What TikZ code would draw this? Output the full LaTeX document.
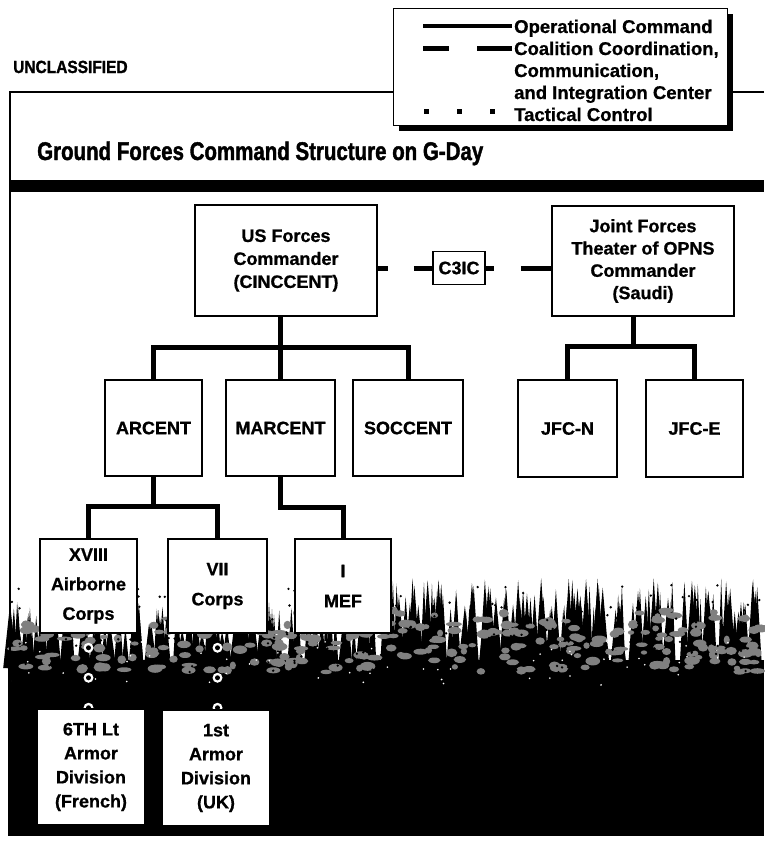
\documentclass[tikz,border=0pt]{standalone}
\usepackage{fontspec}
\setmainfont{Liberation Sans}[BoldFeatures={FakeBold=0.8}]
\newfontfamily\condfont[FakeStretch=0.8,FakeBold=1.5]{Liberation Sans}
\newfontfamily\semicond[FakeStretch=0.88,FakeBold=1.4]{Liberation Sans}
\usetikzlibrary{calc}
\pgfdeclarelayer{back}
\pgfdeclarelayer{mid}
\pgfsetlayers{back,mid,main}
\tikzset{
  orgbox/.style={draw=black, line width=1.5pt, fill=white, inner sep=0pt, align=center,
    font=\bfseries\fontsize{18}{23}\selectfont},
  cmdline/.style={line width=5pt, line join=miter},
  ccline/.style={line width=5pt},
  ringout/.style={white, line width=10pt, line cap=round, dash pattern=on 0pt off 30pt, dash phase=16pt},
  ringin/.style={black, line width=5pt, line cap=round, dash pattern=on 0pt off 30pt, dash phase=16pt},
  legtext/.style={anchor=base west, inner sep=0pt, font=\bfseries\fontsize{18.5}{22}\selectfont},
}
\begin{document}
\begin{tikzpicture}[x=1pt,y=-1pt]
\useasboundingbox (0,0) rectangle (764,847);

% ---------- background scene (trees and dark ground) ----------
\begin{pgfonlayer}{back}
  \pgfmathsetseed{11}
  \foreach \i in {0,...,260}{
    \pgfmathsetmacro\treex{10+754*rnd}
    \pgfmathsetmacro\treey{\treex<360 ? 602+30*rnd : 578+34*rnd}
    \pgfmathsetmacro\treew{3+4*rnd}
    \fill[black] (\treex,\treey) -- ({\treex+\treew},668) -- ({\treex-\treew},668) -- cycle;
  }
  \fill[black] (8,660) rectangle (764,836);
  \foreach \i in {0,...,300}{
    \pgfmathsetmacro\blobx{10+754*rnd}
    \pgfmathsetmacro\bloby{610+62*rnd}
    \pgfmathsetmacro\blobw{3+5*rnd}
    \pgfmathsetmacro\blobh{2+2.5*rnd}
    \fill[black!50] (\blobx,\bloby) ellipse [x radius=\blobw, y radius=\blobh];
  }
  \foreach \i in {0,...,200}{
    \pgfmathsetmacro\specx{10+754*rnd}
    \pgfmathsetmacro\specy{585+90*rnd}
    \fill[black] (\specx,\specy) circle [radius=1.3];
  }
  \foreach \i in {0,...,60}{
    \pgfmathsetmacro\specx{10+754*rnd}
    \pgfmathsetmacro\specy{640+45*rnd}
    \fill[white] (\specx,\specy) circle [radius=0.9];
  }
\end{pgfonlayer}

% ---------- frame, bar, titles ----------
\draw[line width=1.6pt] (764,92) -- (10,92) -- (10,836);
\fill[black] (10,180) rectangle (764,192);
\node[anchor=base west, inner sep=0pt, font=\semicond\bfseries\fontsize{17.6}{20}\selectfont] (unclass) at (13,73) {UNCLASSIFIED};
\node[anchor=base west, inner sep=0pt, font=\condfont\bfseries\fontsize{25.6}{30}\selectfont] (title) at (37,160) {Ground Forces Command Structure on G-Day};

% ---------- legend ----------
\fill[black] (399,14) rectangle (733,131);
\node[draw=black, fill=white, line width=1pt, minimum width=334pt, minimum height=117pt, inner sep=0pt] (legend) at (560,66.5) {};
\draw[line width=3.5pt] (423,26) -- (512,26);
\draw[line width=5pt, dash pattern=on 26pt off 28pt on 40pt off 10pt] (423,48) -- (512,48);
\draw[line width=5pt, dash pattern=on 5pt off 28pt] (424,111) -- (495,111);
\node[legtext] (leg1) at (514,33) {Operational Command};
\node[legtext] (leg2) at (514,55) {Coalition Coordination,};
\node[legtext] (leg3) at (514,77) {Communication,};
\node[legtext] (leg4) at (514,99) {and Integration Center};
\node[legtext] (leg5) at (514,121) {Tactical Control};

% ---------- boxes ----------
\node[orgbox, minimum width=182pt, minimum height=111pt] (US) at (286,260.5) {US Forces\\Commander\\(CINCCENT)};
\node[orgbox, minimum width=52pt, minimum height=33pt] (C3IC) at (459,268) {C3IC};
\node[orgbox, minimum width=182pt, minimum height=110pt, font=\bfseries\fontsize{18}{22.3}\selectfont] (JF) at (643,261) {Joint Forces\\Theater of OPNS\\Commander\\(Saudi)};
\node[orgbox, minimum width=97pt, minimum height=96pt] (ARCENT) at (153.5,428) {ARCENT};
\node[orgbox, minimum width=109pt, minimum height=96pt] (MARCENT) at (280.5,428) {MARCENT};
\node[orgbox, minimum width=110pt, minimum height=96pt] (SOCCENT) at (408,428) {SOCCENT};
\node[orgbox, minimum width=99pt, minimum height=97pt] (JFCN) at (567.5,428.5) {JFC-N};
\node[orgbox, minimum width=97pt, minimum height=97pt] (JFCE) at (694.5,428.5) {JFC-E};
\node[orgbox, minimum width=97pt, minimum height=94pt, font=\bfseries\fontsize{18}{29.5}\selectfont] (XVIII) at (88.5,586) {XVIII\\Airborne\\Corps};
\node[orgbox, minimum width=99pt, minimum height=94pt, font=\bfseries\fontsize{18}{30}\selectfont] (VII) at (217.5,586) {VII\\Corps};
\node[orgbox, minimum width=96pt, minimum height=94pt, font=\bfseries\fontsize{18}{30}\selectfont] (IMEF) at (343,586) {I\\MEF};
\node[orgbox, minimum width=108pt, minimum height=116pt, font=\bfseries\fontsize{18}{24}\selectfont] (Sixth) at (91,767) {6TH Lt\\Armor\\Division\\(French)};
\node[orgbox, minimum width=108pt, minimum height=116pt, font=\bfseries\fontsize{18}{24}\selectfont] (First) at (216,768) {1st\\Armor\\Division\\(UK)};

% ---------- operational command ----------
\draw[cmdline] (US.south -| MARCENT.north) -- (MARCENT.north);
\draw[cmdline] (ARCENT.north) -- ++(0,-32) -| (SOCCENT.north);
\draw[cmdline] ($(JF.south)+(-10,0)$) -- ++(0,31);
\draw[cmdline] (JFCN.north) -- ++(0,-33) -| (JFCE.north);
\draw[cmdline] (ARCENT.south) -- ++(0,31);
\draw[cmdline] (XVIII.north) -- ++(0,-32) -| (VII.north);
\draw[cmdline] (MARCENT.south) -- ++(0,31) -| (IMEF.north);

% ---------- coalition coordination ----------
\draw[ccline, dash pattern=on 10pt off 26pt on 40pt off 10pt] (C3IC.west -| US.east) -- (C3IC.west);
\draw[ccline, dash pattern=on 8pt off 27pt on 40pt off 10pt] (C3IC.east) -- (C3IC.east -| JF.west);

% ---------- tactical control ----------
\begin{pgfonlayer}{mid}
  \draw[ringout] (XVIII.south) -- (XVIII.south |- Sixth.north);
  \draw[ringin] (XVIII.south) -- (XVIII.south |- Sixth.north);
  \draw[ringout] (VII.south) -- (VII.south |- First.north);
  \draw[ringin] (VII.south) -- (VII.south |- First.north);
\end{pgfonlayer}
\end{tikzpicture}
\end{document}
